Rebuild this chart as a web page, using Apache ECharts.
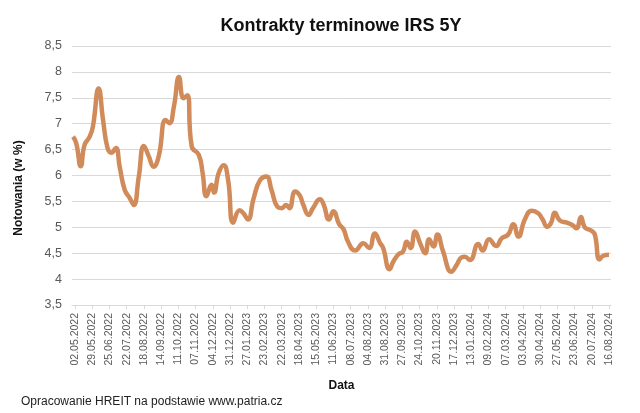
<!DOCTYPE html>
<html>
<head>
<meta charset="utf-8">
<script src="https://cdn.jsdelivr.net/npm/echarts@6/dist/echarts.min.js"></script>
<style>
html,body{margin:0;padding:0;background:#fff;}
#chart{width:640px;height:413px;}
</style>
</head>
<body>
<div id="chart"></div>
<script>
// ---- data ----
const titleText = 'Kontrakty terminowe IRS 5Y';
const yAxisName = 'Notowania (w %)';
const xAxisName = 'Data';
const sourceText = 'Opracowanie HREIT na podstawie www.patria.cz';

const tickLabels = ['02.05.2022','29.05.2022','25.06.2022','22.07.2022','18.08.2022','14.09.2022','11.10.2022','07.11.2022','04.12.2022','31.12.2022','27.01.2023','23.02.2023','22.03.2023','18.04.2023','15.05.2023','11.06.2023','08.07.2023','04.08.2023','31.08.2023','27.09.2023','24.10.2023','20.11.2023','17.12.2023','13.01.2024','09.02.2024','07.03.2024','03.04.2024','30.04.2024','27.05.2024','23.06.2024','20.07.2024','16.08.2024'];

const dates = ['29.04.2022','04.05.2022','11.05.2022','17.05.2022','25.05.2022','30.05.2022','08.06.2022','15.06.2022','22.06.2022','28.06.2022','05.07.2022','11.07.2022','19.07.2022','27.07.2022','02.08.2022','10.08.2022','18.08.2022','26.08.2022','02.09.2022','10.09.2022','21.09.2022','27.09.2022','04.10.2022','12.10.2022','19.10.2022','25.10.2022','01.11.2022','12.11.2022','18.11.2022','24.11.2022','02.12.2022','06.12.2022','13.12.2022','21.12.2022','28.12.2022','05.01.2023','15.01.2023','21.01.2023','28.01.2023','06.02.2023','16.02.2023','26.02.2023','06.03.2023','15.03.2023','22.03.2023','29.03.2023','03.04.2023','12.04.2023','19.04.2023','25.04.2023','03.05.2023','10.05.2023','21.05.2023','27.05.2023','04.06.2023','11.06.2023','20.06.2023','27.06.2023','04.07.2023','15.07.2023','28.07.2023','06.08.2023','15.08.2023','23.08.2023','28.08.2023','07.09.2023','13.09.2023','21.09.2023','28.09.2023','04.10.2023','10.10.2023','17.10.2023','25.10.2023','02.11.2023','08.11.2023','15.11.2023','21.11.2023','30.11.2023','13.12.2023','21.12.2023','29.12.2023','03.01.2024','11.01.2024','24.01.2024','31.01.2024','10.02.2024','21.02.2024','01.03.2024','11.03.2024','19.03.2024','27.03.2024','06.04.2024','17.04.2024','27.04.2024','04.05.2024','11.05.2024','17.05.2024','23.05.2024','31.05.2024','11.06.2024','20.06.2024','26.06.2024','03.07.2024','09.07.2024','20.07.2024','25.07.2024','01.08.2024','07.08.2024','16.08.2024'];

const values = [6.75,6.62,6.18,6.59,6.75,6.94,7.68,7.07,6.53,6.44,6.53,6.17,5.72,5.56,5.43,5.98,6.57,6.36,6.17,6.36,7.07,7.01,7.33,7.90,7.49,7.55,6.56,6.40,6.05,5.60,5.82,5.67,6.04,6.20,5.91,5.09,5.33,5.27,5.15,5.56,5.91,5.98,5.72,5.40,5.37,5.43,5.37,5.69,5.62,5.43,5.24,5.37,5.54,5.43,5.15,5.31,5.06,4.96,4.72,4.55,4.69,4.60,4.88,4.70,4.60,4.19,4.34,4.48,4.53,4.72,4.60,4.92,4.69,4.50,4.77,4.63,4.86,4.53,4.14,4.27,4.42,4.43,4.37,4.68,4.55,4.77,4.64,4.79,4.86,5.06,4.82,5.15,5.32,5.27,5.15,5.01,5.08,5.28,5.13,5.09,5.04,4.98,5.20,5.00,4.93,4.85,4.38,4.45,4.47];

// ---- helpers: dates -> day numbers (UTC, no DST issues) ----
const DAY = 86400000;
function dayNum(s){ const p = s.split('.'); return Math.round(Date.UTC(+p[2], +p[1]-1, +p[0]) / DAY); }
function pad(n){ return (n<10?'0':'')+n; }
function fmtDay(n){ const d = new Date(Math.round(n)*DAY); return pad(d.getUTCDate())+'.'+pad(d.getUTCMonth()+1)+'.'+d.getUTCFullYear(); }

const tickValues = tickLabels.map(dayNum);
const seriesData = dates.map((d,i)=>[dayNum(d), values[i]]);
const xMin = tickValues[0] - 4.7;
const xMax = tickValues[tickValues.length-1] + 3.1;

const chart = echarts.init(document.getElementById('chart'), null, {renderer:'canvas'});
const FONT = '"Liberation Sans", Arial, sans-serif';
chart.setOption({
  animation:false,
  backgroundColor:'#fff',
  textStyle:{fontFamily:FONT},
  title:[
    {text:titleText, left:336, top:12, textAlign:'center',
     textStyle:{fontFamily:FONT, fontSize:18, fontWeight:'bold', color:'#111'}},
    {text:sourceText, left:16, top:391,
     textStyle:{fontFamily:FONT, fontSize:12, fontWeight:'normal', color:'#222'}}
  ],
  grid:{left:72, right:29, top:46, bottom:108, containLabel:false},
  xAxis:{
    type:'value', min:xMin, max:xMax, scale:true,
    name:xAxisName, nameLocation:'middle', nameGap:75,
    nameTextStyle:{fontFamily:FONT, fontSize:12, fontWeight:'bold', color:'#111'},
    axisLine:{show:true, lineStyle:{color:'#d9d9d9', width:1}},
    axisTick:{show:true, length:4, lineStyle:{color:'#d9d9d9'}, customValues:tickValues},
    axisLabel:{rotate:90, margin:8, hideOverlap:false, customValues:tickValues,
      showMinLabel:true, showMaxLabel:true,
      formatter:(v)=>fmtDay(v), fontFamily:FONT, fontSize:10.5, color:'#595959'},
    splitLine:{show:false}
  },
  yAxis:{
    type:'value', min:3.5, max:8.5, interval:0.5,
    name:yAxisName, nameLocation:'middle', nameGap:47,
    nameTextStyle:{fontFamily:FONT, fontSize:12, fontWeight:'bold', color:'#111', padding:[0,25,0,0]},
    axisLine:{show:false}, axisTick:{show:false},
    axisLabel:{margin:10, formatter:(v)=>String(v).replace('.', ','), fontFamily:FONT, fontSize:12.5, color:'#595959'},
    splitLine:{show:true, lineStyle:{color:'#d9d9d9', width:1}}
  },
  series:[{
    type:'line', data:seriesData, smooth:0.5, showSymbol:false,
    lineStyle:{color:'#D18B5A', width:4.5}, itemStyle:{color:'#D18B5A'}
  }]
});
</script>
</body>
</html>
